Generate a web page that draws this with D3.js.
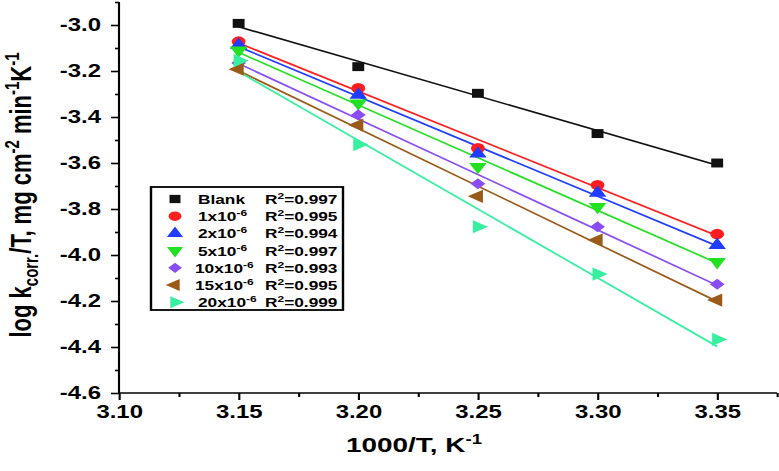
<!DOCTYPE html>
<html><head><meta charset="utf-8">
<script src="https://cdn.jsdelivr.net/npm/d3@7"></script>
<style>
html,body{margin:0;padding:0;background:#fff;}
svg{display:block;}
text{font-family:"Liberation Sans",Arial,Helvetica,sans-serif;font-weight:bold;fill:#000;}
</style></head>
<body>
<script>
// ---- data ----
const xValues = [3.15, 3.20, 3.25, 3.30, 3.35];
const blank = [-2.993, -3.181, -3.297, -3.472, -3.600];
const c1  = [-3.072, -3.275, -3.536, -3.696, -3.909];
const c2  = [-3.087, -3.304, -3.560, -3.730, -3.957];
const c5  = [-3.110, -3.340, -3.616, -3.790, -4.030];
const c10 = [-3.165, -3.391, -3.690, -3.877, -4.127];
const c15 = [-3.192, -3.435, -3.745, -3.935, -4.196];
const c20 = [-3.155, -3.520, -3.877, -4.083, -4.367];
const seriesNames = ["Blank", "1x10", "2x10", "5x10", "10x10", "15x10", "20x10"];
const seriesExp = ["", "-6", "-6", "-6", "-6", "-6", "-6"];
const r2Values = ["0.997", "0.995", "0.994", "0.997", "0.993", "0.995", "0.999"];
const xTicks = [3.10, 3.15, 3.20, 3.25, 3.30, 3.35];
const xMinor = [3.125, 3.175, 3.225, 3.275, 3.325, 3.375];
const yTicks = [-4.6, -4.4, -4.2, -4.0, -3.8, -3.6, -3.4, -3.2, -3.0];
const yMinor = [-4.5, -4.3, -4.1, -3.9, -3.7, -3.5, -3.3, -3.1, -2.9];

const seriesValues = [blank, c1, c2, c5, c10, c15, c20];
const colors = ["#111111", "#ff1e1e", "#1f3cff", "#22e022", "#8a4df5", "#9a5a18", "#36f0a0"];
const symbols = [
  {t: d3.symbolSquare, r: 0, s: 80},
  {t: d3.symbolCircle, r: 0, s: 85},
  {t: d3.symbolTriangle, r: 0, s: 75},
  {t: d3.symbolTriangle, r: 180, s: 75},
  {t: d3.symbolSquare, r: 45, s: 62},
  {t: d3.symbolTriangle, r: -90, s: 75},
  {t: d3.symbolTriangle, r: 90, s: 75}
];

// ---- layout (image is horizontally stretched) ----
const k = 1.33;
const W = 779, H = 471;
const VW = W / k;
const svg = d3.select("body").append("svg")
  .attr("width", W).attr("height", H)
  .attr("viewBox", `0 0 ${VW} ${H}`)
  .attr("preserveAspectRatio", "none");

const x = d3.scaleLinear().domain([3.10, 3.375]).range([119 / k, 777 / k]);
const y = d3.scaleLinear().domain([-4.6, -2.9]).range([393, 2]);

// axes
const gx = svg.append("g").attr("transform", `translate(0,${y(-4.6)})`)
  .call(d3.axisBottom(x).tickValues(xTicks).tickSize(7).tickPadding(5).tickFormat(d3.format(".2f")));
svg.append("g").attr("transform", `translate(0,${y(-4.6)})`)
  .call(d3.axisBottom(x).tickValues(xMinor).tickSize(4).tickFormat(""))
  .select(".domain").remove();
const gy = svg.append("g").attr("transform", `translate(${x(3.10)},0)`)
  .call(d3.axisLeft(y).tickValues(yTicks).tickSize(8 / k).tickPadding(10 / k).tickFormat(d3.format(".1f")));
svg.append("g").attr("transform", `translate(${x(3.10)},0)`)
  .call(d3.axisLeft(y).tickValues(yMinor).tickSize(4 / k).tickFormat(""))
  .select(".domain").remove();

svg.selectAll(".domain").attr("stroke", "#000").attr("stroke-width", 1.6);
svg.selectAll(".tick line").attr("stroke", "#000").attr("stroke-width", 1.6);
gx.selectAll(".tick text").attr("font-size", 18).style("font-family", '"Liberation Sans",Arial,sans-serif').style("font-weight", "bold").attr("fill", "#000");
gy.selectAll(".tick text").attr("font-size", 18).style("font-family", '"Liberation Sans",Arial,sans-serif').style("font-weight", "bold").attr("fill", "#000")
  .text(d => d3.format(".1f")(d).replace("−", "-"));
gx.select(".domain").attr("d", `M${x(3.10)},0H${x(3.375)}`);
gy.select(".domain").attr("d", `M0,${y(-2.9)}V${y(-4.6)}`);

// fit lines (least squares) and markers
function fit(xs, ys) {
  const mx = d3.mean(xs), my = d3.mean(ys);
  let num = 0, den = 0;
  xs.forEach((xv, i) => { num += (xv - mx) * (ys[i] - my); den += (xv - mx) ** 2; });
  const b = num / den, a = my - b * mx;
  return xv => a + b * xv;
}
const x0 = d3.min(xValues), x1 = d3.max(xValues);
seriesValues.forEach((vals, i) => {
  const f = fit(xValues, vals);
  svg.append("line")
    .attr("x1", x(x0)).attr("y1", y(f(x0)))
    .attr("x2", x(x1)).attr("y2", y(f(x1)))
    .attr("stroke", colors[i]).attr("stroke-width", 1.6);
});
seriesValues.forEach((vals, i) => {
  const sym = d3.symbol().type(symbols[i].t).size(symbols[i].s);
  svg.selectAll(null).data(vals).enter().append("path")
    .attr("d", sym)
    .attr("transform", (d, j) => `translate(${x(xValues[j])},${y(d)}) rotate(${symbols[i].r})`)
    .attr("fill", colors[i]);
});

// legend
const lg = svg.append("g");
lg.append("rect").attr("x", 151 / k).attr("y", 187).attr("width", 192 / k).attr("height", 123)
  .attr("fill", "#fff").attr("stroke", "#000").attr("stroke-width", 1.8);
seriesNames.forEach((name, i) => {
  const yy = 199 + i * 17.2;
  const sym = d3.symbol().type(symbols[i].t).size(symbols[i].s * 0.85);
  lg.append("path").attr("d", sym)
    .attr("transform", `translate(${175 / k},${yy}) rotate(${symbols[i].r})`)
    .attr("fill", colors[i]);
  const t = lg.append("text").attr("x", (i === 4 || i === 5 ? 195 : 198) / k).attr("y", yy + 5).attr("font-size", 13);
  t.append("tspan").text(name);
  if (seriesExp[i]) t.append("tspan").attr("dy", -5).attr("font-size", 9).text(seriesExp[i]);
  const r = lg.append("text").attr("x", 265 / k).attr("y", yy + 5).attr("font-size", 13);
  r.append("tspan").text("R");
  r.append("tspan").attr("dy", -5).attr("font-size", 9).text("2");
  r.append("tspan").attr("dy", 5).text("=" + r2Values[i]);
});

// axis titles
const xt = svg.append("text").attr("x", 414 / k).attr("y", 452).attr("text-anchor", "middle").attr("font-size", 21);
xt.append("tspan").text("1000/T, K");
xt.append("tspan").attr("dy", -8).attr("font-size", 14).text("-1");

const yt = svg.append("text").attr("transform", `translate(${31 / k},195) rotate(-90)`).attr("text-anchor", "middle").attr("font-size", 22);
yt.append("tspan").text("log k");
yt.append("tspan").attr("dy", 5).attr("font-size", 15).text("corr.");
yt.append("tspan").attr("dy", -5).text("/T, mg cm");
yt.append("tspan").attr("dy", -9).attr("font-size", 15).text("-2");
yt.append("tspan").attr("dy", 9).text(" min");
yt.append("tspan").attr("dy", -9).attr("font-size", 15).text("-1");
yt.append("tspan").attr("dy", 9).text("K");
yt.append("tspan").attr("dy", -9).attr("font-size", 15).text("-1");
</script>
</body></html>
